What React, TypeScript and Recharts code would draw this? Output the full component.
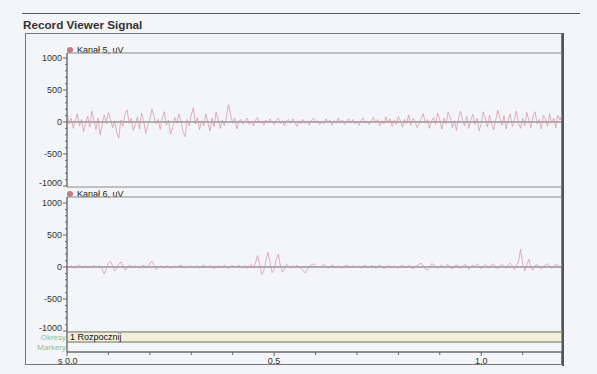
import React from 'react';
import { LineChart, Line, XAxis, YAxis, ReferenceLine, ReferenceArea } from 'recharts';

const TITLE = 'Record Viewer Signal';
const SERIES_NAMES = ['Kanał 5, uV', 'Kanał 6, uV'];
const PERIOD_LABEL = '1 Rozpocznij';
const ROW_LABELS = ['Markery', 'Okresy'];

const STEP = 0.005;
const T_MAX = 1.195;

const kanal5: number[] = [
  140, -30, 60, -100, 20, 130, -60, 40, -150, -20,
  90, -80, 170, 30, -120, 60, -200, -40, 110, -30,
  150, 40, -90, 20, -160, -250, 30, -70, 120, 190,
  -20, 60, -130, -40, 80, -110, 140, 20, -180, -60,
  50, 200, 90, -30, 40, -120, 60, 160, -50, 30,
  -190, -90, 70, -20, 130, 10, -150, -230, 40, -60,
  110, 220, -30, 70, -120, 20, -60, 130, -10, -140,
  60, -70, 150, 40, -100, 30, -60, 90, 270, 120,
  -20, 60, -110, 10,
  40, -30, 20, 60, -40, 10, -60, 30, 70, -20,
  10, -50, 30, -10, 50, 0, -40, 20, 60, -30,
  20, -60, 10, 40, -20, 50, -10, -70, 20, -30,
  40, -20, 10, -50, 30, 60, -10, 20, -40, 10,
  -30, 50, 0, 30, -50, 20, -20, 60, -10, 30,
  -40, 10, 50, -20, 40, -30, 0, -50, 30, 60,
  -20, 10, -40, 30, 70, -10,
  40, -60, 20, -30, 80, -10, 50, -70, 30, -40,
  90, 10, -80, 40, -20, 110, -50, 60, 20, -90,
  -30, 60, 130, -20, 40, -100, 10, 70, -40, 140,
  30, -110, 60, -30, 150, 80, -90, 20, -130, 50,
  170, 20, -60, 90, -100, 40, 120, -40, 60, -140,
  -20, 160, 50, -80, 110, -30, -120, 30, 180, 60,
  -50, 100, -110, 20, 130, -70, 40, 170, -20, -100,
  60, -60, 150, 20, -90, 90, 160, -30, 40, -110,
  100, 50, -70, 130, -20, 60, -90, 110, 30, 120,
];

const kanal6: number[] = [
  10, -10, 20, 0, -20, 10, 30, 0, -10, 20, -20, 10, 0, 30, -10, 10,
  20, -40, -110, -30, 60, 90, 20, -60, -30, 40, 80, 20, -50, -20, 30, 10,
  -10, 20, 0, -20, 10, 30, -10, 0, 60, 90, 30, -40, -20, 20, 0, -10, 20, 10, -20, 0,
  20, -10, 10, 30, 0, -20, 10, 0, 20, -10,
  0, 20, -20, 10, 30, 0, -10, 20, 10, -30,
  0, 20, 10, -10, 30, 0, -20, 10, 20, -10,
  10, 30, -10, 0, 20, -20, 10, 40,
  -20, 60, 180, 40, -120, -60, 100, 230, 80, -90, -40, 120, 200, 30, -80, -30, 40, 10, -20, 20,
  -10, 30, 0, -20, -60, -90, -40, 10, 30, 50, 20, -10, 0, 20, 40, 10, -20, 0, 30, 10,
  -10, 20, 0, -20, 10, 30, 0, -10, 20, 10,
  0, 20, -20, 10, 30, -10, 0, 20, 10, -20,
  10, 30, 0, -20, -10, 20, 10, -10, 20, 0,
  -20, 10, 30, 0, -10, 20, 10, -30, 0, 20,
  40, 60, 20, -30, -50, -10, 50, 40, 0, -20,
  10, 30, -10, 20, 40, 0, -30, 10, 30, 20,
  -20, 0, 40, 20, -40, 10, 30, 0, 50, 20,
  -30, 10, 40, 10, -20, 30, 50, 0, -30, 20,
  40, 10, -20, 30, 60, 20,
  -40, 30, 80, 280, 60, -60, 40, 120, -20, -50, 20, 40, 0, -30, 10, 30, 50, 20, -20, 10, 40, 30, 0, 30,
];

const yTicks = [-1000, -900, -800, -700, -600, -500, -400, -300, -200, -100, 0, 100, 200, 300, 400, 500, 600, 700, 800, 900, 1000];
const yLabels = [-1000, -500, 0, 500, 1000];
const xTicks = [0, 0.1, 0.2, 0.3, 0.4, 0.5, 0.6, 0.7, 0.8, 0.9, 1.0, 1.1];
const xLabels = [0, 0.5, 1.0];
const rowTicks = [0.5, 1.5];

const rows = kanal5.map((v, i) => ({ t: Math.round(i * STEP * 1000) / 1000, k5: v, k6: kanal6[i] }));

const FONT = '"Liberation Sans", Arial, sans-serif';
const LINE_COLOR = '#d394a0';
const AXIS = '#666';

const YTick = (props: any) => {
  const { x, y, payload } = props;
  const v = payload.value;
  const major = yLabels.includes(v);
  return (
    <g>
      <line x1={x - (major ? 4 : 2)} x2={x} y1={y} y2={y} stroke={AXIS} strokeWidth={1} />
      {major && (
        <text x={x - 5} y={y} dy={v === -1000 ? 0 : 3} textAnchor="end" fontSize={9} fontFamily={FONT} fill="#333">
          {v}
        </text>
      )}
    </g>
  );
};

const XTick = (props: any) => {
  const { x, y, payload } = props;
  const v = payload.value;
  const major = xLabels.some((l) => Math.abs(l - v) < 1e-6);
  return (
    <g>
      <line x1={x} x2={x} y1={y} y2={y + (major ? 4 : 3)} stroke={AXIS} strokeWidth={1} />
      {major && (
        <text x={v === 0 ? x - 9 : x} y={y + 12} textAnchor={v === 0 ? 'start' : 'middle'} fontSize={9} fontFamily={FONT} fill="#333">
          {v === 0 ? 's 0.0' : v.toFixed(1)}
        </text>
      )}
    </g>
  );
};

const RowTick = (props: any) => {
  const { x, y, payload } = props;
  const label = payload.value < 1 ? ROW_LABELS[0] : ROW_LABELS[1];
  return (
    <text x={x - 1} y={y} dy={3} textAnchor="end" fontSize={8} fontFamily={FONT} fill="#8fbf8c">
      {label}
    </text>
  );
};

const abs = (l: number, t: number): React.CSSProperties => ({ position: 'absolute', left: l, top: t });

const LegendItem = ({ top, name }: { top: number; name: string }) => (
  <div style={{ ...abs(67, top), display: 'flex', alignItems: 'center', fontFamily: FONT, fontSize: 9, color: '#222', lineHeight: '10px' }}>
    <span style={{ width: 6, height: 6, borderRadius: 3, background: '#bf7c88', display: 'inline-block', marginRight: 4 }} />
    <span>{name}</span>
  </div>
);

export default function App() {
  return (
    <div style={{ position: 'fixed', left: 0, top: 0, width: 597, height: 374, background: '#f3f5f8', overflow: 'hidden' }}>
      <div style={{ ...abs(22, 13), width: 558, height: 1, background: '#555' }} />
      <div style={{ ...abs(23, 18), fontFamily: FONT, fontWeight: 'bold', fontSize: 11.7, color: '#333', lineHeight: '14px', whiteSpace: 'nowrap' }}>
        {TITLE}
      </div>
      <div style={{ ...abs(25, 33), width: 537, height: 332, border: '1px solid #777', boxSizing: 'border-box' }} />
      <LegendItem top={45} name={SERIES_NAMES[0]} />
      <LegendItem top={189} name={SERIES_NAMES[1]} />

      <div style={abs(0, 0)}>
        <LineChart width={597} height={374} data={rows} margin={{ top: 53, right: 35, bottom: 187, left: 0 }}>
          <XAxis dataKey="t" type="number" domain={[0, T_MAX]} hide allowDataOverflow />
          <YAxis type="number" domain={[-1016, 1078]} ticks={yTicks} interval={0} width={67} tickSize={0} tickMargin={0}
            tick={(p: any) => <YTick {...p} />} tickLine={false} axisLine={{ stroke: AXIS }} allowDataOverflow />
          <ReferenceArea x1={0} x2={T_MAX} y1={-1016} y2={1078} fill="none" stroke="#8a8a8a" ifOverflow="visible" />
          <ReferenceLine y={0} stroke="#666" />
          <Line dataKey="k5" name={SERIES_NAMES[0]} stroke={LINE_COLOR} strokeWidth={0.7} dot={false} isAnimationActive={false} />
        </LineChart>
      </div>

      <div style={abs(0, 0)}>
        <LineChart width={597} height={374} data={rows} margin={{ top: 197, right: 35, bottom: 42, left: 0 }}>
          <XAxis dataKey="t" type="number" domain={[0, T_MAX]} hide allowDataOverflow />
          <YAxis type="number" domain={[-1016, 1094]} ticks={yTicks} interval={0} width={67} tickSize={0} tickMargin={0}
            tick={(p: any) => <YTick {...p} />} tickLine={false} axisLine={{ stroke: AXIS }} allowDataOverflow />
          <ReferenceArea x1={0} x2={T_MAX} y1={-1016} y2={1094} fill="none" stroke="#8a8a8a" ifOverflow="visible" />
          <ReferenceLine y={0} stroke="#666" />
          <Line dataKey="k6" name={SERIES_NAMES[1]} stroke={LINE_COLOR} strokeWidth={0.7} dot={false} isAnimationActive={false} />
        </LineChart>
      </div>

      <div style={abs(0, 0)}>
        <LineChart width={597} height={374} data={rows} margin={{ top: 332, right: 35, bottom: 2, left: 0 }}>
          <XAxis dataKey="t" type="number" domain={[0, T_MAX]} ticks={xTicks} interval={0} height={20} tickSize={0} tickMargin={0}
            tick={(p: any) => <XTick {...p} />} tickLine={false} axisLine={{ stroke: '#555' }} allowDataOverflow />
          <YAxis type="number" domain={[0, 2]} ticks={rowTicks} interval={0} width={67} tickSize={0} tickMargin={0}
            tick={(p: any) => <RowTick {...p} />} tickLine={false} axisLine={{ stroke: AXIS }} allowDataOverflow />
          <ReferenceArea x1={0} x2={T_MAX} y1={0} y2={1} fill="#f8f8f6" stroke="#999" ifOverflow="visible" />
          <ReferenceArea x1={0} x2={T_MAX} y1={1} y2={2} fill="#eeebbd" stroke="#8d8d86" ifOverflow="visible"
            label={{ value: PERIOD_LABEL, position: 'insideLeft', offset: 3, fill: '#111', fontSize: 9, fontFamily: FONT }} />
        </LineChart>
      </div>

      <div style={{ ...abs(562, 33), width: 2, height: 333, background: '#555' }} />
    </div>
  );
}
